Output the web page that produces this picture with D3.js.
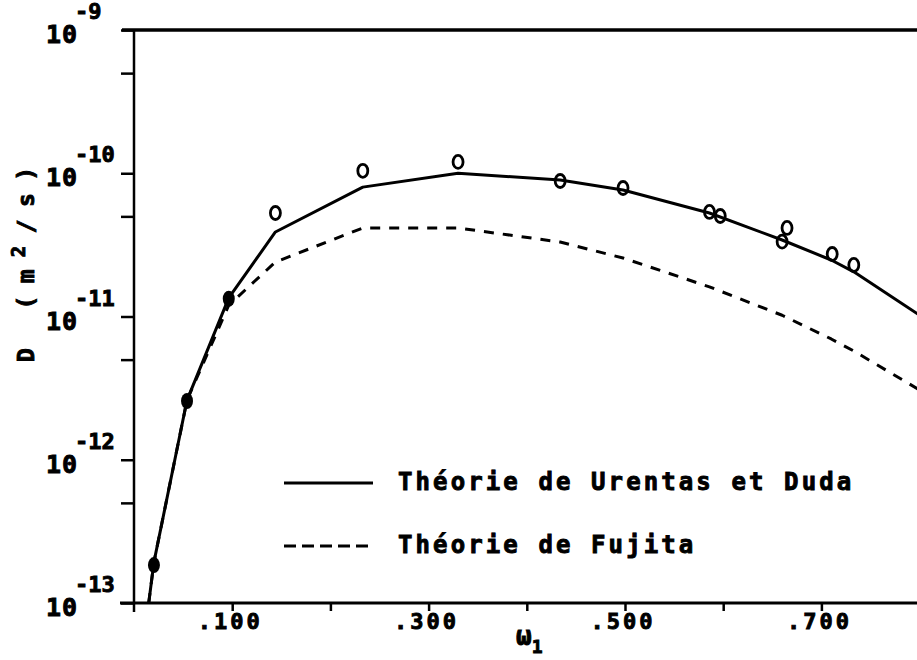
<!DOCTYPE html>
<meta charset="utf-8">
<style>
  body { margin: 0; background: #fff; }
  text { font-family: "DejaVu Sans Mono", monospace; font-weight: bold; fill: #000; stroke: #000; stroke-width: 0.9px; }
  .curve { fill: none; stroke: #000; stroke-width: 3px; stroke-linejoin: round; }
  .tick line { stroke: #000; stroke-width: 2.5px; }
</style>
<body>
<script src="https://cdn.jsdelivr.net/npm/d3@7"></script>
<script>
var width = 917, height = 660;

// mass fraction w1 where the two theories were computed
var wTheory  = [0.015, 0.0203, 0.054, 0.0965, 0.144, 0.233, 0.330, 0.434, 0.498, 0.586, 0.660, 0.710, 0.733, 0.800];
var dVrentas = [1.0e-13, 1.93e-13, 2.61e-12, 1.35e-11, 3.89e-11, 8.0e-11, 1.0e-10, 8.97e-11, 7.64e-11, 5.28e-11, 3.42e-11, 2.48e-11, 2.05e-11, 1.02e-11];
var dFujita  = [1.0e-13, 1.93e-13, 2.61e-12, 1.20e-11, 2.40e-11, 4.15e-11, 4.15e-11, 3.31e-11, 2.56e-11, 1.61e-11, 1.02e-11, 6.97e-12, 5.74e-12, 3.07e-12];

// measured points
var wFilled = [0.0203, 0.054, 0.0965];
var dFilled = [1.84e-13, 2.57e-12, 1.33e-11];
var wOpen = [0.144, 0.233, 0.330, 0.434, 0.498, 0.586, 0.597, 0.660, 0.665, 0.711, 0.733];
var dOpen = [5.28e-11, 1.04e-10, 1.20e-10, 8.83e-11, 7.89e-11, 5.37e-11, 5.03e-11, 3.33e-11, 4.15e-11, 2.73e-11, 2.29e-11];

// axes
var yMajor = [1e-9, 1e-10, 1e-11, 1e-12, 1e-13];
var yMinor = [5e-10, 5e-11, 5e-12, 5e-13];
var yExp = ["-9", "-10", "-11", "-12", "-13"];
var xTicks = [0.1, 0.2, 0.3, 0.4, 0.5, 0.6, 0.7];
var xLabelVals = [0.1, 0.3, 0.5, 0.7];
var xLabels = [".100", ".300", ".500", ".700"];
var legendNames = ["Théorie de Urentas et Duda", "Théorie de Fujita"];

var x = d3.scaleLinear().domain([0, 0.8]).range([134, 919.6]);
var y = d3.scaleLog().domain([1e-13, 1e-9]).range([603, 30]);

var svg = d3.select("body").append("svg")
    .attr("width", width)
    .attr("height", height);

svg.append("defs").append("clipPath").attr("id", "plot")
  .append("rect").attr("x", 134).attr("y", 30).attr("width", width - 134).attr("height", 573);

/* frame lines */
svg.append("line").attr("x1", 122).attr("x2", width).attr("y1", 30).attr("y2", 30)
    .attr("stroke", "#000").attr("stroke-width", 3.5);
svg.append("line").attr("x1", 134).attr("x2", 134).attr("y1", 30).attr("y2", 612)
    .attr("stroke", "#000").attr("stroke-width", 2.5);
svg.append("line").attr("x1", 120).attr("x2", width).attr("y1", 603).attr("y2", 603)
    .attr("stroke", "#000").attr("stroke-width", 3);

/* y ticks */
var yAxis = svg.append("g")
    .attr("transform", "translate(134,0)")
    .call(d3.axisLeft(y).tickValues(yMajor.concat(yMinor)).tickSize(13).tickFormat(""));
yAxis.select(".domain").remove();

/* x ticks */
var xAxis = svg.append("g")
    .attr("transform", "translate(0,603)")
    .call(d3.axisBottom(x).tickValues(xTicks).tickSize(8).tickFormat(""));
xAxis.select(".domain").remove();

/* y labels: 10 with exponent */
yMajor.forEach(function(v, i) {
    svg.append("text")
        .attr("x", 46).attr("y", y(v) + 13)
        .attr("font-size", 25).attr("letter-spacing", 1)
        .text("10");
    svg.append("text")
        .attr("x", 75).attr("y", y(v) - 11)
        .attr("font-size", 22).attr("letter-spacing", 0)
        .text(yExp[i]);
});

/* x labels */
xLabelVals.forEach(function(v, i) {
    svg.append("text")
        .attr("x", x(v) - 2).attr("y", 629)
        .attr("text-anchor", "middle")
        .attr("font-size", 22).attr("letter-spacing", 3)
        .text(xLabels[i]);
});

/* axis titles */
var xt = svg.append("text")
    .attr("x", 516).attr("y", 645)
    .attr("font-size", 26);
xt.append("tspan").text("ω");
xt.append("tspan").attr("dy", 8).attr("font-size", 18).text("1");

var yt = svg.append("text")
    .attr("transform", "translate(34,362) rotate(-90)")
    .attr("font-size", 23)
    .attr("textLength", 195).attr("lengthAdjust", "spacing");
yt.append("tspan").text("D  (m");
yt.append("tspan").attr("dy", -9).attr("font-size", 19).text("2");
yt.append("tspan").attr("dy", 9).text("/s)");

/* curves */
var line = d3.line()
    .x(d => x(d[0]))
    .y(d => y(d[1]));

var plot = svg.append("g").attr("clip-path", "url(#plot)");

plot.append("path")
    .attr("class", "curve")
    .attr("d", line(d3.zip(wTheory, dVrentas)));

plot.append("path")
    .attr("class", "curve")
    .attr("stroke-dasharray", "10,9")
    .attr("d", line(d3.zip(wTheory, dFujita)));

/* points */
plot.selectAll(".open")
    .data(d3.zip(wOpen, dOpen))
    .enter().append("ellipse")
    .attr("class", "open")
    .attr("cx", d => x(d[0])).attr("cy", d => y(d[1]))
    .attr("rx", 5).attr("ry", 6.5)
    .attr("fill", "none").attr("stroke", "#000").attr("stroke-width", 2.8);

plot.selectAll(".filled")
    .data(d3.zip(wFilled, dFilled))
    .enter().append("ellipse")
    .attr("class", "filled")
    .attr("cx", d => x(d[0])).attr("cy", d => y(d[1]))
    .attr("rx", 6).attr("ry", 8)
    .attr("fill", "#000");

/* legend */
var legend = svg.append("g");
legendNames.forEach(function(name, i) {
    var ly = 483 + i * 63;
    legend.append("line")
        .attr("x1", 284).attr("x2", 373)
        .attr("y1", ly).attr("y2", ly)
        .attr("stroke", "#000").attr("stroke-width", 3)
        .attr("stroke-dasharray", i == 1 ? "12,6" : null);
    legend.append("text")
        .attr("x", 398).attr("y", ly + 7)
        .attr("font-size", 24).attr("letter-spacing", 3.1)
        .text(name);
});
</script>
</body>
